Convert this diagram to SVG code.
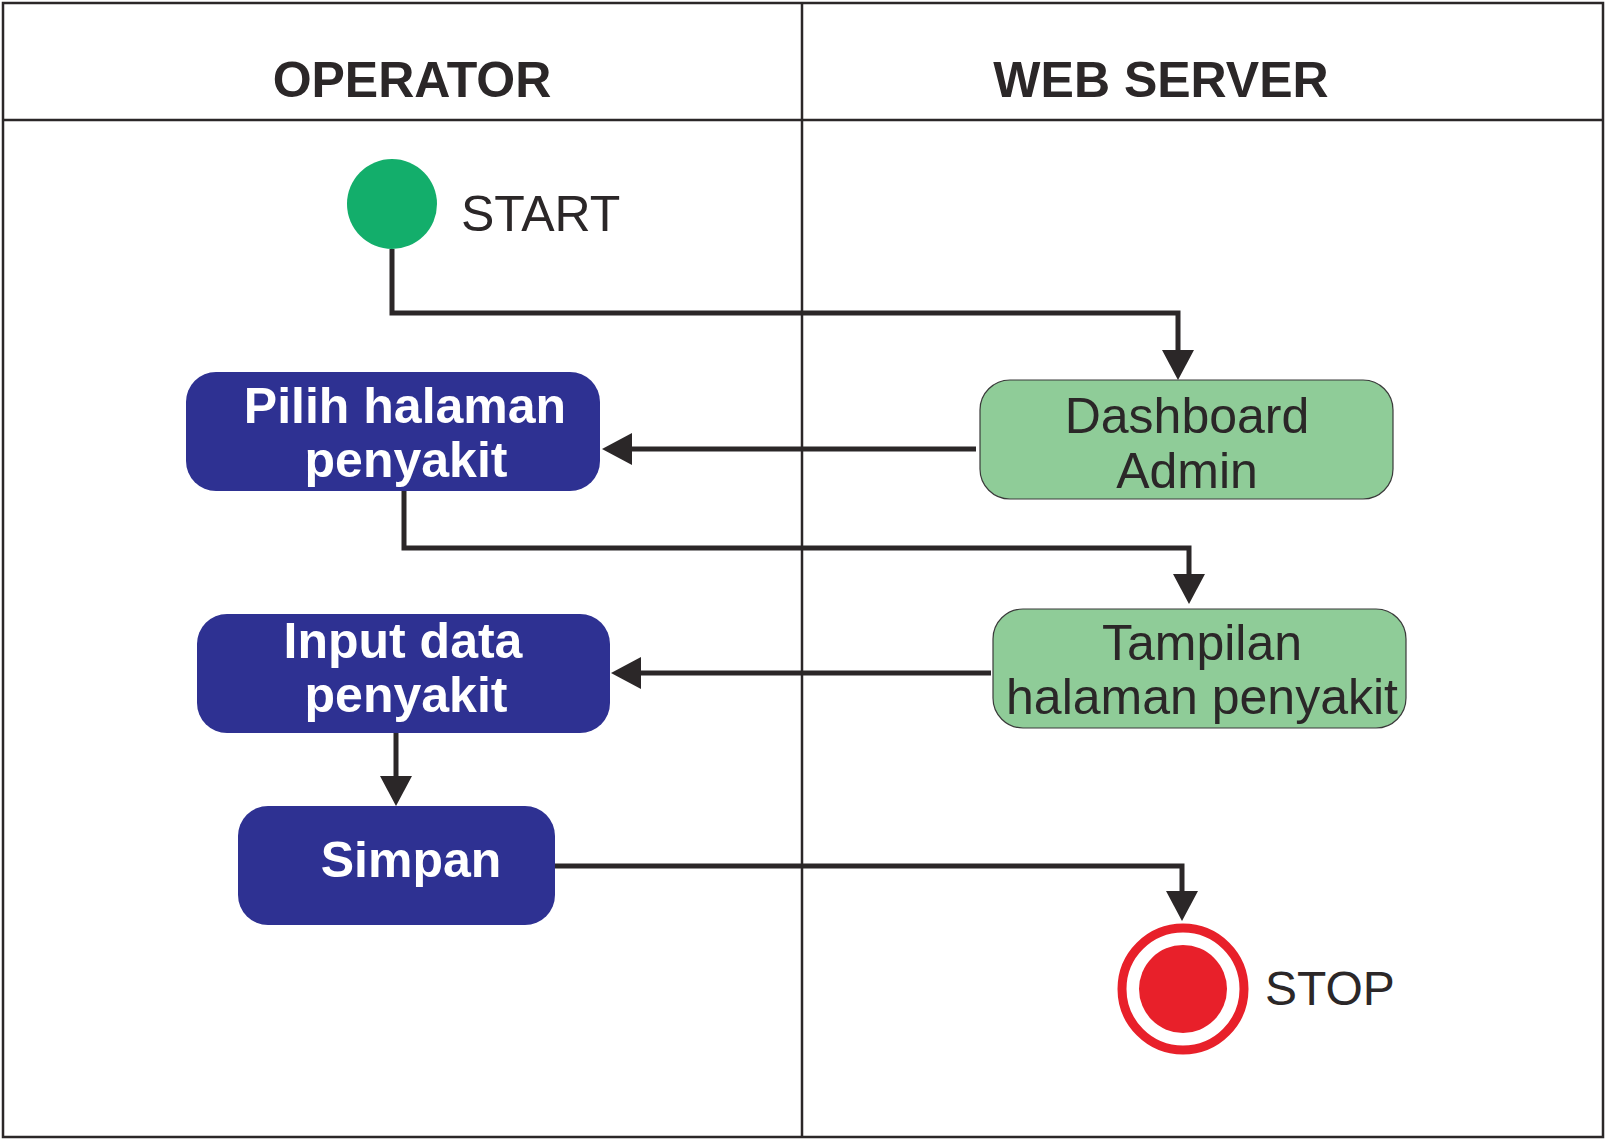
<svg xmlns="http://www.w3.org/2000/svg" width="1606" height="1141" viewBox="0 0 1606 1141">
  <style>
    .lane { fill: none; stroke: #2b2728; stroke-width: 2.5; }
    .hdr { font-family: "Liberation Sans", Arial, sans-serif; font-weight: bold; font-size: 50px; fill: #2b2728; text-anchor: middle; }
    .blue { fill: #2e3192; }
    .green { fill: #8fcc98; stroke: #3a3a3a; stroke-width: 1.2; }
    .wt { font-family: "Liberation Sans", Arial, sans-serif; font-weight: bold; font-size: 50px; fill: #ffffff; text-anchor: middle; }
    .dt { font-family: "Liberation Sans", Arial, sans-serif; font-size: 50px; fill: #2b2728; text-anchor: middle; }
    .lbl { font-family: "Liberation Sans", Arial, sans-serif; font-size: 48px; fill: #2b2728; }
    .conn { fill: none; stroke: #2b2728; stroke-width: 5; marker-end: url(#arr); }
  </style>
  <defs>
    <marker id="arr" markerUnits="userSpaceOnUse" markerWidth="30" markerHeight="32" refX="0" refY="16" orient="auto" viewBox="0 0 30 32">
      <path d="M0,0 L30,16 L0,32 z" fill="#2b2728"/>
    </marker>
  </defs>
  <rect width="1606" height="1141" fill="#ffffff"/>
  <g id="swimlanes">
    <rect class="lane" x="3" y="3" width="1600" height="1134"/>
    <line class="lane" x1="3" y1="120" x2="1603" y2="120"/>
    <line class="lane" x1="802" y1="3" x2="802" y2="1137"/>
    <text class="hdr" x="412" y="97">OPERATOR</text>
    <text class="hdr" x="1161" y="97">WEB SERVER</text>
  </g>
  <g id="connectors">
    <path class="conn" d="M392,249 V313 H1178 V350"/>
    <path class="conn" d="M976,449 H632"/>
    <path class="conn" d="M404,491 V548 H1189 V574"/>
    <path class="conn" d="M991,673 H641"/>
    <path class="conn" d="M396,733 V776"/>
    <path class="conn" d="M555,866 H1182 V891"/>
  </g>
  <g id="start">
    <circle cx="392" cy="204" r="45" fill="#13ae6b"/>
    <text class="lbl" x="461" y="231" style="font-size:50px">START</text>
  </g>
  <g id="pilih">
    <rect class="blue" x="186" y="372" width="414" height="119" rx="30"/>
    <text class="wt" x="405" y="423">Pilih halaman</text>
    <text class="wt" x="406" y="477">penyakit</text>
  </g>
  <g id="dashboard">
    <rect class="green" x="980" y="380" width="413" height="119" rx="30"/>
    <text class="dt" x="1187" y="433">Dashboard</text>
    <text class="dt" x="1187" y="488">Admin</text>
  </g>
  <g id="tampilan">
    <rect class="green" x="993" y="609" width="413" height="119" rx="30"/>
    <text class="dt" x="1202" y="660">Tampilan</text>
    <text class="dt" x="1202" y="714">halaman penyakit</text>
  </g>
  <g id="input">
    <rect class="blue" x="197" y="614" width="413" height="119" rx="30"/>
    <text class="wt" x="403" y="658">Input data</text>
    <text class="wt" x="406" y="712">penyakit</text>
  </g>
  <g id="simpan">
    <rect class="blue" x="238" y="806" width="317" height="119" rx="30"/>
    <text class="wt" x="411" y="877">Simpan</text>
  </g>
  <g id="stop">
    <circle cx="1183" cy="989" r="61" fill="none" stroke="#e8202a" stroke-width="9"/>
    <circle cx="1183" cy="989" r="44" fill="#e8202a"/>
    <text class="lbl" x="1265" y="1005">STOP</text>
  </g>
</svg>
